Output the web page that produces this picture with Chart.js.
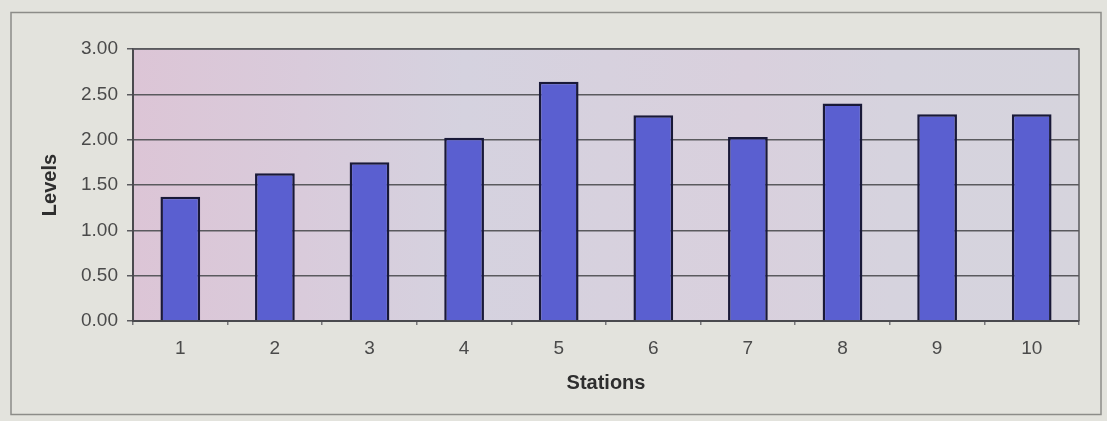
<!DOCTYPE html>
<html>
<head>
<meta charset="utf-8">
<script src="https://cdn.jsdelivr.net/npm/chart.js@4/dist/chart.umd.min.js"></script>
<style>
  html, body { margin: 0; padding: 0; background: #e3e3dd; }
  #wrap { width: 1107px; height: 421px; position: relative; }
</style>
</head>
<body>
<div id="wrap"><canvas id="c" width="1107" height="421"></canvas></div>
<script>
// Station numbers along the x axis
const stations = ['1', '2', '3', '4', '5', '6', '7', '8', '9', '10'];
// Measured level at each station
const levels = [1.37, 1.63, 1.75, 2.02, 2.64, 2.27, 2.03, 2.40, 2.28, 2.28];
// Value axis range and step
const yMin = 0;
const yMax = 3;
const yStep = 0.5;

const FONT = 'Liberation Sans, Arial, sans-serif';

// Frame around the whole chart and a soft tinted fill behind the plot
const framePlugin = {
  id: 'frame',
  beforeDraw(chart) {
    const ctx = chart.ctx;
    const a = chart.chartArea;
    ctx.save();
    ctx.fillStyle = '#e3e3dd';
    ctx.fillRect(0, 0, chart.width, chart.height);
    ctx.strokeStyle = '#8c8c88';
    ctx.lineWidth = 1.5;
    ctx.strokeRect(11, 12.5, 1090, 402);
    const g = ctx.createLinearGradient(a.left, 0, a.right, 0);
    g.addColorStop(0, '#dcc5d6');
    g.addColorStop(0.18, '#d9cbdb');
    g.addColorStop(0.35, '#d5d2df');
    g.addColorStop(0.65, '#d9d0dd');
    g.addColorStop(0.8, '#d6d3de');
    g.addColorStop(1, '#d6d4dd');
    ctx.fillStyle = g;
    ctx.fillRect(a.left, a.top, a.right - a.left, a.bottom - a.top);
    ctx.restore();
  },
  afterDatasetsDraw(chart) {
    const ctx = chart.ctx;
    const a = chart.chartArea;
    ctx.save();
    ctx.strokeStyle = '#5a5a5e';
    ctx.lineWidth = 1.5;
    ctx.beginPath();
    ctx.moveTo(a.left, a.top);
    ctx.lineTo(a.right, a.top);
    ctx.lineTo(a.right, a.bottom);
    ctx.stroke();
    ctx.restore();
  }
};

new Chart(document.getElementById('c'), {
  type: 'bar',
  data: {
    labels: stations,
    datasets: [{
      data: levels,
      backgroundColor: '#5a5fd0',
      borderColor: '#191938',
      borderWidth: 2.5,
      categoryPercentage: 1,
      barPercentage: 0.42
    }]
  },
  options: {
    responsive: false,
    animation: false,
    layout: { padding: { left: 0, top: 49, right: 28, bottom: 0 } },
    plugins: { legend: { display: false }, tooltip: { enabled: false } },
    scales: {
      x: {
        offset: true,
        grid: {
          display: true,
          offset: true,
          drawOnChartArea: false,
          drawTicks: true,
          tickLength: 4,
          color: '#77777a',
          lineWidth: 1.5
        },
        border: { display: true, color: '#4a4a4e', width: 2 },
        ticks: {
          color: '#4a4a4a',
          font: { family: FONT, size: 19 },
          padding: 12
        },
        title: {
          display: true,
          text: 'Stations',
          color: '#2e2e2e',
          font: { family: FONT, size: 20, weight: 'bold' },
          padding: { top: 0, bottom: 26 }
        },
        afterFit(axis) { axis.height = 100; }
      },
      y: {
        min: yMin,
        max: yMax,
        grid: {
          color: '#5a5a5e',
          lineWidth: 1.5,
          drawTicks: true,
          tickLength: 6
        },
        border: { display: true, color: '#4a4a4e', width: 2 },
        ticks: {
          stepSize: yStep,
          color: '#4a4a4a',
          font: { family: FONT, size: 19 },
          padding: 9,
          callback: (v) => Number(v).toFixed(2)
        },
        title: {
          display: true,
          text: 'Levels',
          color: '#2e2e2e',
          font: { family: FONT, size: 20, weight: 'bold' },
          padding: { top: 38, bottom: 0 }
        },
        afterFit(axis) { axis.width = 133; }
      }
    }
  },
  plugins: [framePlugin]
});
</script>
</body>
</html>
